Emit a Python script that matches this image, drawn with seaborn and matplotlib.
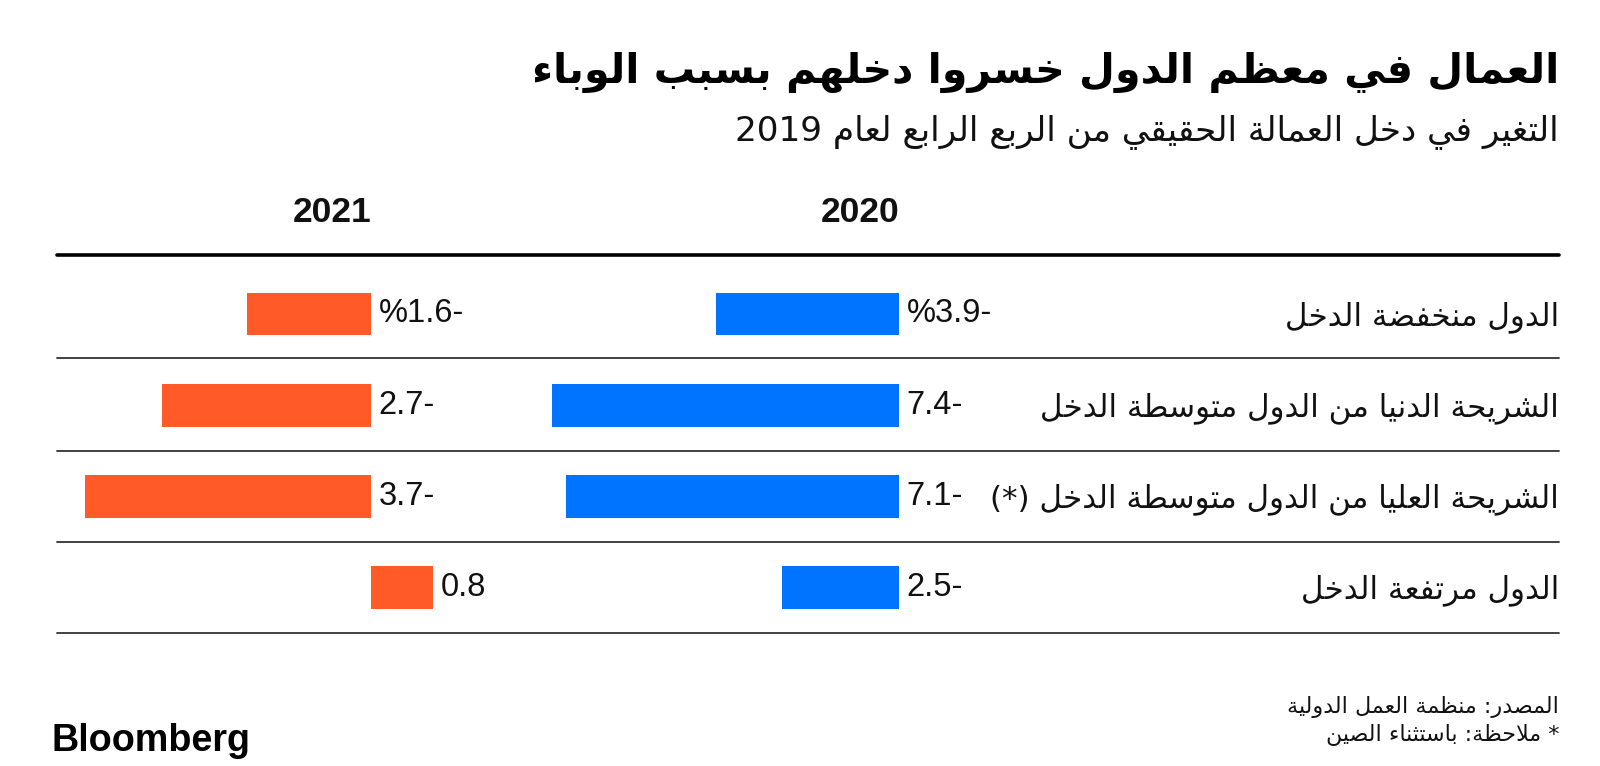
import re
import matplotlib
matplotlib.use("Agg")
import matplotlib.pyplot as plt
import matplotlib.transforms as mtransforms
import pandas as pd
import seaborn as sns

# ---------------- data ----------------
title = "العمال في معظم الدول خسروا دخلهم بسبب الوباء"
subtitle = "التغير في دخل العمالة الحقيقي من الربع الرابع لعام 2019"
categories = [
    "الدول منخفضة الدخل",
    "الشريحة الدنيا من الدول متوسطة الدخل",
    "الشريحة العليا من الدول متوسطة الدخل (*)",
    "الدول مرتفعة الدخل",
]
years = ["2020", "2021"]
values_2020 = [-3.9, -7.4, -7.1, -2.5]
values_2021 = [-1.6, -2.7, -3.7, 0.8]
labels_2020 = ["-3.9%", "-7.4", "-7.1", "-2.5"]
labels_2021 = ["-1.6%", "-2.7", "-3.7", "0.8"]
source_lines = ["المصدر: منظمة العمل الدولية", "* ملاحظة: باستثناء الصين"]
brand = "Bloomberg"

# ---------------- minimal Arabic shaping + RTL ordering ----------------
AR_FORMS = {
    '\u0621': (0xFE80, 1), '\u0622': (0xFE81, 2), '\u0623': (0xFE83, 2),
    '\u0624': (0xFE85, 2), '\u0625': (0xFE87, 2), '\u0626': (0xFE89, 4),
    '\u0627': (0xFE8D, 2), '\u0628': (0xFE8F, 4), '\u0629': (0xFE93, 2),
    '\u062A': (0xFE95, 4), '\u062B': (0xFE99, 4), '\u062C': (0xFE9D, 4),
    '\u062D': (0xFEA1, 4), '\u062E': (0xFEA5, 4), '\u062F': (0xFEA9, 2),
    '\u0630': (0xFEAB, 2), '\u0631': (0xFEAD, 2), '\u0632': (0xFEAF, 2),
    '\u0633': (0xFEB1, 4), '\u0634': (0xFEB5, 4), '\u0635': (0xFEB9, 4),
    '\u0636': (0xFEBD, 4), '\u0637': (0xFEC1, 4), '\u0638': (0xFEC5, 4),
    '\u0639': (0xFEC9, 4), '\u063A': (0xFECD, 4), '\u0641': (0xFED1, 4),
    '\u0642': (0xFED5, 4), '\u0643': (0xFED9, 4), '\u0644': (0xFEDD, 4),
    '\u0645': (0xFEE1, 4), '\u0646': (0xFEE5, 4), '\u0647': (0xFEE9, 4),
    '\u0648': (0xFEED, 2), '\u0649': (0xFEEF, 2), '\u064A': (0xFEF1, 4),
}
LAM_ALEF = {'\u0622': 0xFEF5, '\u0623': 0xFEF7, '\u0625': 0xFEF9, '\u0627': 0xFEFB}
MIRROR = {'(': ')', ')': '('}


def shape(s):
    chars = list(s)
    n = len(chars)
    out = []
    prev = None
    i = 0
    while i < n:
        c = chars[i]
        if c not in AR_FORMS:
            out.append(c)
            prev = None
            i += 1
            continue
        prev_joins = prev is not None and AR_FORMS[prev][1] == 4
        if c == '\u0644' and i + 1 < n and chars[i + 1] in LAM_ALEF:
            out.append(chr(LAM_ALEF[chars[i + 1]] + (1 if prev_joins else 0)))
            prev = chars[i + 1]
            i += 2
            continue
        start, k = AR_FORMS[c]
        nxt = chars[i + 1] if i + 1 < n else None
        next_joins = (k == 4 and nxt in AR_FORMS and nxt != '\u0621')
        if k == 1:
            form = 0
        elif prev_joins and next_joins:
            form = 3
        elif prev_joins:
            form = 1
        elif next_joins:
            form = 2
        else:
            form = 0
        out.append(chr(start + form))
        prev = c
        i += 1
    return ''.join(out)


def rtl(s):
    shaped = shape(s)
    tokens = re.findall(r'[0-9][0-9.,]*|[^0-9]', shaped)
    out = []
    for t in reversed(tokens):
        if len(t) == 1 and not t.isdigit():
            out.append(MIRROR.get(t, t))
        else:
            out.append(t)
    return ''.join(out)


# ---------------- figure ----------------
sns.set_theme(style="white")
plt.rcParams['font.family'] = ['DejaVu Sans']

W, H = 1600, 766
fig = plt.figure(figsize=(W / 100, H / 100), dpi=100)
fig.patch.set_facecolor("white")


def rect(x0, y0, x1, y1):
    return [x0 / W, 1 - y1 / H, (x1 - x0) / W, (y1 - y0) / H]


AR = ['DejaVu Sans']
NUM = ['Liberation Sans Narrow', 'Liberation Sans', 'DejaVu Sans']
BLUE = "#0073FF"
ORANGE = "#FF5A28"
RIGHT = 1559
LEFT = 57

# vertical mapping shared by all panels (row i centred at 314 + 91.3*i px)
px_top, px_bot = 255, 633
Y_TOP = (px_top - 314) / 91.3
Y_BOT = (px_bot - 314) / 91.3

# background panel for rules and category labels
bg = fig.add_axes(rect(LEFT, px_top, RIGHT, px_bot))
bg.set_xlim(0, 1)
bg.set_ylim(Y_BOT, Y_TOP)
bg.axis("off")
bg.axhline(Y_TOP, color="black", lw=2.6, clip_on=False)
for yy in [0.48, 1.5, 2.5, Y_BOT]:
    bg.axhline(yy, color="#333333", lw=1.3, clip_on=False)
for i, cat in enumerate(categories):
    bg.text(1.0, i + 0.03, rtl(cat), ha="right", va="center", fontsize=22.3,
            family=AR, color="#111111")

# 2020 panel: zero at x=899 px, ~46.9 px per unit
s20 = 46.9
zero20 = 899
x0_20 = 480
ax20 = fig.add_axes(rect(x0_20, px_top, zero20, px_bot))
df20 = pd.DataFrame({"category": categories, "value": values_2020})
sns.barplot(data=df20, x="value", y="category", orient="h", color=BLUE,
            saturation=1, width=0.47, linewidth=0, ax=ax20)
ax20.set_xlim(-(zero20 - x0_20) / s20, 0)

# 2021 panel: zero at x=371 px, ~77.3 px per unit
s21 = 77.3
zero21 = 371
x0_21, x1_21 = 60, 450
ax21 = fig.add_axes(rect(x0_21, px_top, x1_21, px_bot))
df21 = pd.DataFrame({"category": categories, "value": values_2021})
sns.barplot(data=df21, x="value", y="category", orient="h", color=ORANGE,
            saturation=1, width=0.47, linewidth=0, ax=ax21)
ax21.set_xlim(-(zero21 - x0_21) / s21, (x1_21 - zero21) / s21)

for ax, vals, labs, year in [(ax20, values_2020, labels_2020, years[0]),
                             (ax21, values_2021, labels_2021, years[1])]:
    ax.set_ylim(Y_BOT, Y_TOP)
    ax.patch.set_alpha(0)
    ax.set_xlabel("")
    ax.set_ylabel("")
    ax.set_xticks([])
    ax.set_yticks([])
    for sp in ax.spines.values():
        sp.set_visible(False)
    for i, (v, lab) in enumerate(zip(vals, labs)):
        ax.annotate(rtl(lab), xy=(max(v, 0), i), xytext=(5.5, 0),
                    textcoords="offset points", ha="left", va="center",
                    fontsize=23.5, family=NUM, color="#111111",
                    annotation_clip=False)
    # year header, right-aligned to zero line
    trans = mtransforms.blended_transform_factory(ax.transData, fig.transFigure)
    ax.text(0, 1 - 212 / H, year, transform=trans, ha="right", va="center",
            fontsize=25.5, fontweight="bold", family=NUM, color="#111111")

# titles
fig.text(RIGHT / W, 1 - 72 / H, rtl(title), ha="right", va="center",
         fontsize=29.7, fontweight="bold", family=AR, color="black")
fig.text(RIGHT / W, 1 - 132 / H, rtl(subtitle), ha="right", va="center",
         fontsize=24.7, family=AR, color="#111111")

# footer
fig.text(RIGHT / W, 1 - 707 / H, rtl(source_lines[0]), ha="right", va="center",
         fontsize=16, family=AR, color="#111111")
fig.text(RIGHT / W, 1 - 735 / H, rtl(source_lines[1]), ha="right", va="center",
         fontsize=16, family=AR, color="#111111")
fig.text(52 / W, 1 - 751 / H, brand, ha="left", va="baseline",
         fontsize=27.2, fontweight="bold", family=['Liberation Sans', 'DejaVu Sans'],
         color="black")

fig.savefig("out.png", dpi=100, facecolor="white")
